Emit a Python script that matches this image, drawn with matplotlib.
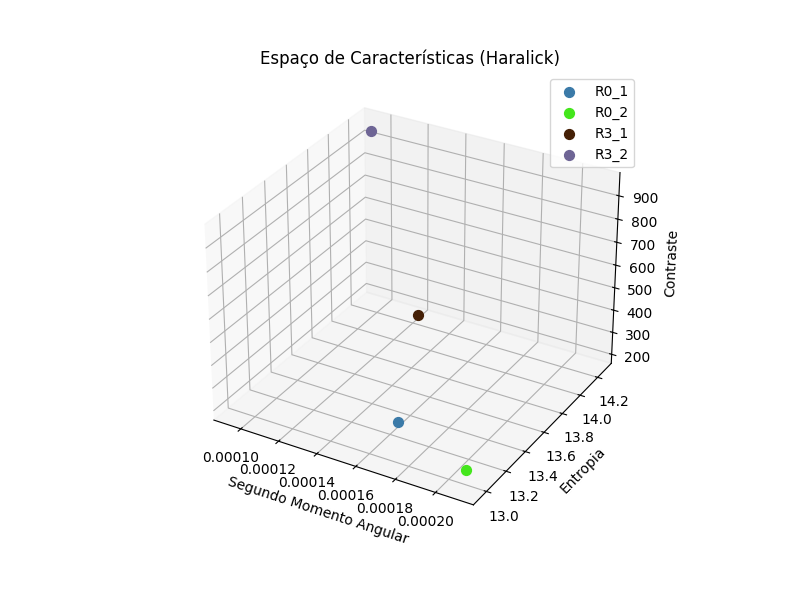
import matplotlib
matplotlib.use('Agg')
import matplotlib.pyplot as plt

labels = ['R0_1', 'R0_2', 'R3_1', 'R3_2']
asm = [0.0001628, 0.0002101, 0.0001335, 0.000094]
entropy = [13.222, 12.965, 13.995, 14.265]
contrast = [212, 242, 308, 945]
colors = ['#3b7aa8', '#44e61c', '#452006', '#6e6595']

fig = plt.figure(figsize=(8, 6))
ax = fig.add_subplot(111, projection='3d')

for i in range(len(labels)):
    ax.scatter(asm[i], entropy[i], contrast[i], color=colors[i], s=50, label=labels[i], depthshade=False)

ax.set_xlabel('Segundo Momento Angular')
ax.set_ylabel('Entropia')
ax.set_zlabel('Contraste')
ax.set_title('Espaço de Características (Haralick)')
ax.legend()

plt.savefig('out.png', dpi=100)
